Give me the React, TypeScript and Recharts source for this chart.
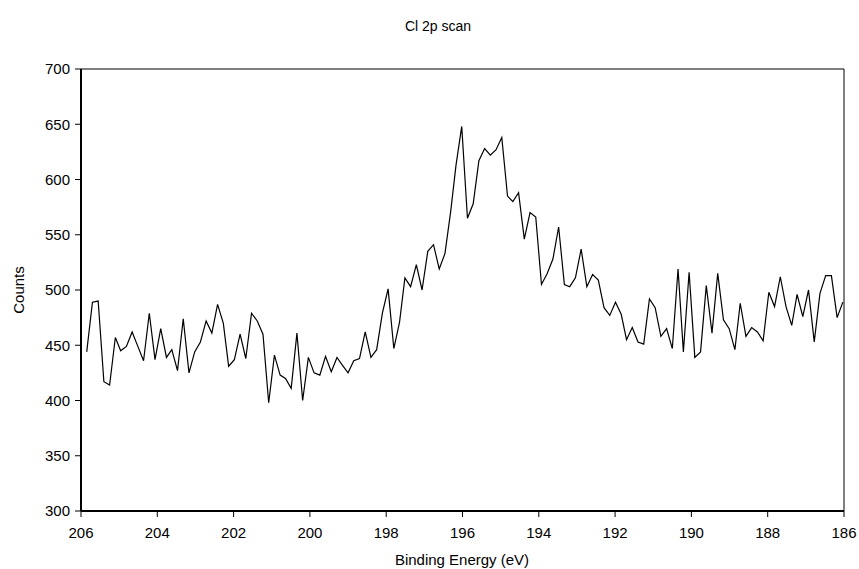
import { LineChart, Line, XAxis, YAxis, ReferenceLine, Label, Customized } from 'recharts';

// binding energy grid (eV)
const energy = [
  205.85, 205.70, 205.55, 205.40, 205.25, 205.10, 204.96, 204.81, 204.66, 204.51,
  204.36, 204.21, 204.06, 203.91, 203.76, 203.62, 203.47, 203.32, 203.17, 203.02,
  202.87, 202.72, 202.57, 202.42, 202.27, 202.13, 201.98, 201.83, 201.68, 201.53,
  201.38, 201.23, 201.08, 200.93, 200.78, 200.64, 200.49, 200.34, 200.19, 200.04,
  199.89, 199.74, 199.59, 199.44, 199.29, 199.15, 199.00, 198.85, 198.70, 198.55,
  198.40, 198.25, 198.10, 197.95, 197.80, 197.65, 197.51, 197.36, 197.21, 197.06,
  196.91, 196.76, 196.61, 196.46, 196.31, 196.17, 196.02, 195.87, 195.72, 195.57,
  195.42, 195.27, 195.12, 194.97, 194.82, 194.68, 194.53, 194.38, 194.23, 194.08,
  193.93, 193.78, 193.63, 193.48, 193.33, 193.19, 193.04, 192.89, 192.74, 192.59,
  192.44, 192.29, 192.14, 191.99, 191.84, 191.70, 191.55, 191.40, 191.25, 191.10,
  190.95, 190.80, 190.65, 190.50, 190.35, 190.21, 190.06, 189.91, 189.76, 189.61,
  189.46, 189.31, 189.16, 189.01, 188.86, 188.72, 188.57, 188.42, 188.27, 188.12,
  187.97, 187.82, 187.67, 187.52, 187.37, 187.23, 187.08, 186.93, 186.78, 186.63,
  186.48, 186.33, 186.18, 186.03,
];

// counts per channel
const counts = [
  444, 489, 490, 417, 414, 457, 445, 449, 462, 449,
  436, 479, 437, 465, 439, 446, 427, 474, 425, 444,
  453, 472, 461, 487, 470, 431, 437, 460, 438, 479,
  472, 460, 398, 441, 423, 420, 411, 461, 400, 439,
  425, 423, 440, 426, 439, 432, 425, 436, 438, 462,
  439, 446, 479, 501, 447, 471, 511, 503, 523, 500,
  535, 541, 519, 533, 571, 613, 648, 565, 578, 617,
  628, 622, 627, 638, 585, 580, 588, 546, 570, 566,
  505, 515, 528, 557, 505, 503, 511, 537, 503, 514,
  509, 484, 477, 489, 478, 455, 466, 453, 451, 492,
  484, 458, 465, 447, 519, 444, 516, 439, 444, 504,
  461, 515, 473, 465, 446, 488, 458, 466, 462, 454,
  498, 485, 512, 485, 468, 496, 476, 500, 453, 497,
  513, 513, 475, 489,
];

const xTicks = [206, 204, 202, 200, 198, 196, 194, 192, 190, 188, 186];
const yTicks = [300, 350, 400, 450, 500, 550, 600, 650, 700];

const data = energy.map((e, i) => ({ energy: e, counts: counts[i] }));

const font = '"Liberation Sans", Arial, sans-serif';
const tickStyle = { fill: '#000', fontSize: 15, fontFamily: font };

const Title = () => (
  <text x={438} y={31} textAnchor="middle" fontSize={14} fontFamily={font} fill="#000">
    Cl 2p scan
  </text>
);

export default function App() {
  return (
    <div style={{ position: 'absolute', left: 0, top: 0, background: '#fff' }}>
      <LineChart width={859} height={569} data={data} margin={{ top: 69, right: 15, bottom: 0, left: 0 }}>
        <XAxis
          dataKey="energy"
          type="number"
          domain={[186, 206]}
          reversed
          ticks={xTicks}
          interval={0}
          height={58}
          tick={tickStyle}
          tickSize={6}
          tickMargin={10}
          stroke="#000"
          strokeWidth={2}
          tickLine={{ stroke: '#000', strokeWidth: 1 }}
        >
          <Label
            content={() => (
              <text x={462} y={565} textAnchor="middle" fontSize={15} fontFamily={font} fill="#000">
                Binding Energy (eV)
              </text>
            )}
          />
        </XAxis>
        <YAxis
          type="number"
          domain={[300, 700]}
          ticks={yTicks}
          interval={0}
          width={81}
          tick={tickStyle}
          tickSize={6}
          tickMargin={5}
          stroke="#000"
          strokeWidth={2}
          tickLine={{ stroke: '#000', strokeWidth: 1 }}
        >
          <Label
            content={() => (
              <text
                x={24}
                y={290}
                textAnchor="middle"
                transform="rotate(-90, 24, 290)"
                fontSize={15}
                fontFamily={font}
                fill="#000"
              >
                Counts
              </text>
            )}
          />
        </YAxis>
        <ReferenceLine y={700} stroke="#000" strokeWidth={1} />
        <ReferenceLine x={186} stroke="#000" strokeWidth={1} />
        <Line
          type="linear"
          dataKey="counts"
          stroke="#000"
          strokeWidth={1.2}
          dot={false}
          isAnimationActive={false}
        />
        <Customized component={<Title />} />
      </LineChart>
    </div>
  );
}
